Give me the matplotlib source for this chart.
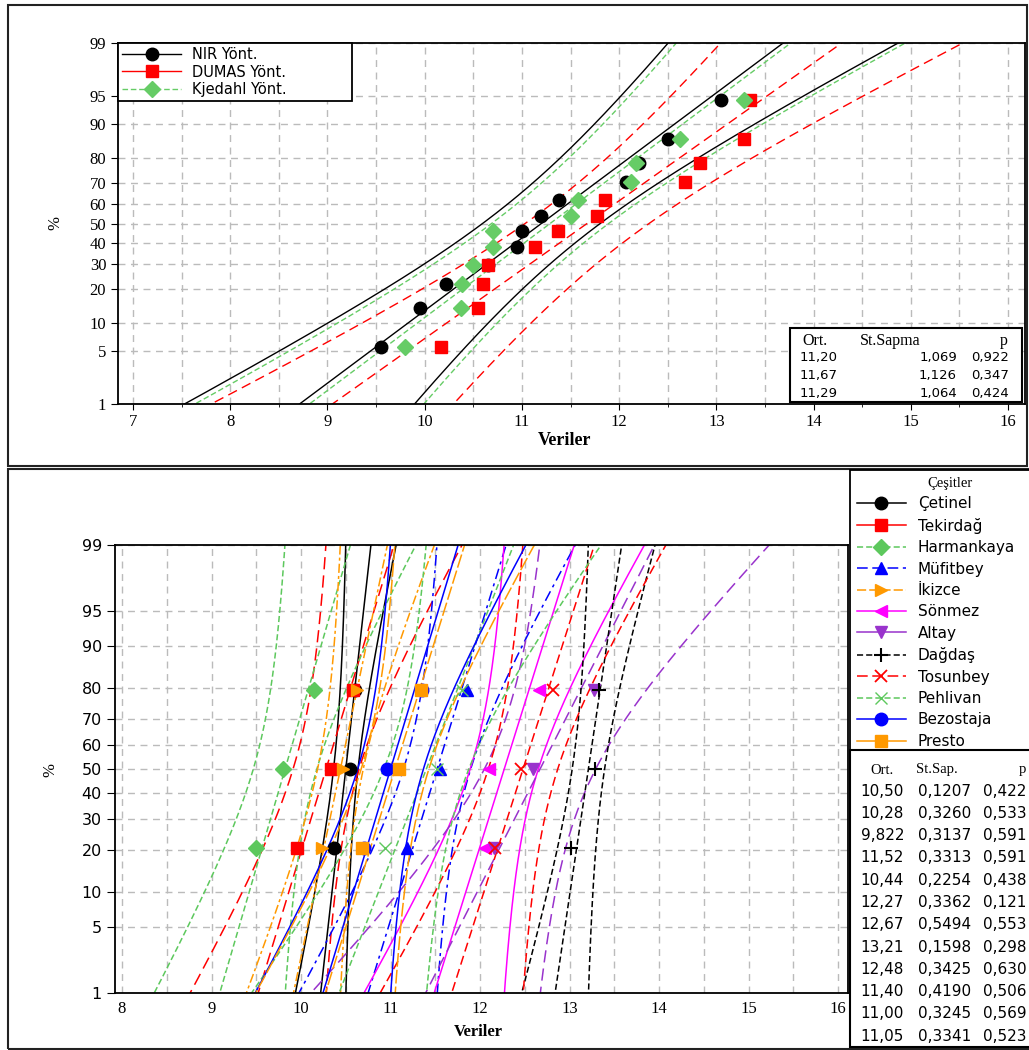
import numpy as np
import matplotlib
matplotlib.use('Agg')
import matplotlib.pyplot as plt
import matplotlib.patches as patches
from matplotlib.lines import Line2D
from matplotlib.ticker import MultipleLocator
from statistics import NormalDist

# ---- top panel data: three methods, 12 values each (sorted)
methods = ['NIR Yönt.', 'DUMAS Yönt.', 'Kjedahl Yönt.']
nir = [9.55, 9.95, 10.22, 10.65, 10.95, 11.00, 11.20, 11.38, 12.07, 12.20, 12.50, 13.05]
dumas = [10.17, 10.55, 10.60, 10.65, 11.13, 11.37, 11.77, 11.85, 12.68, 12.83, 13.28, 13.35]
kjel = [9.80, 10.37, 10.38, 10.50, 10.70, 10.70, 11.50, 11.58, 12.12, 12.17, 12.63, 13.28]
top_ort = [11.20, 11.67, 11.29]
top_sd = [1.069, 1.126, 1.064]
top_p = [0.922, 0.347, 0.424]

# ---- bottom panel data: 12 varieties, 3 values each
cesit = ['Çetinel', 'Tekirdağ', 'Harmankaya', 'Müfitbey', 'İkizce', 'Sönmez',
         'Altay', 'Dağdaş', 'Tosunbey', 'Pehlivan', 'Bezostaja', 'Presto']
cesit_vals = [
    [10.37, 10.55, 10.60],
    [9.95, 10.33, 10.58],
    [9.50, 9.80, 10.15],
    [11.18, 11.55, 11.85],
    [10.23, 10.47, 10.62],
    [12.05, 12.10, 12.66],
    [12.16, 12.59, 13.27],
    [13.02, 13.28, 13.33],
    [12.17, 12.46, 12.81],
    [10.94, 11.52, 11.80],
    [10.70, 10.96, 11.35],
    [10.68, 11.09, 11.34],
]
bot_ort = [10.50, 10.28, 9.822, 11.52, 10.44, 12.27, 12.67, 13.21, 12.48, 11.40, 11.00, 11.05]
bot_sd = [0.1207, 0.3260, 0.3137, 0.3313, 0.2254, 0.3362, 0.5494, 0.1598, 0.3425, 0.4190, 0.3245, 0.3341]
bot_p = [0.422, 0.533, 0.591, 0.591, 0.438, 0.121, 0.553, 0.298, 0.630, 0.506, 0.569, 0.523]

yticks = [1, 5, 10, 20, 30, 40, 50, 60, 70, 80, 90, 95, 99]

nd = NormalDist()
_f = np.vectorize(lambda v: nd.inv_cdf(v / 100.0), otypes=[float])
_i = np.vectorize(lambda v: nd.cdf(v) * 100.0, otypes=[float])


def fwd(p):
    return _f(np.clip(np.asarray(p, float), 1e-4, 100 - 1e-4))


def inv(z):
    return _i(np.asarray(z, float))


def ranks(n):
    # median rank plotting positions
    return [(i - 0.3) / (n + 0.4) * 100 for i in range(1, n + 1)]


pgrid = np.linspace(0.5, 99.5, 300)
zgrid = fwd(pgrid)


def fit_lines(ax, m, s, n, color, ls, lw=1.0):
    center = m + s * zgrid
    se = s * np.sqrt(1.0 / n + zgrid ** 2 / (2 * n - 1))
    for xx in (center - 1.96 * se, center, center + 1.96 * se):
        ax.plot(xx, pgrid, color=color, ls=ls, lw=lw, zorder=2)


def style_axes(ax, xlim, serif_y):
    ax.set_yscale('function', functions=(fwd, inv))
    ax.set_ylim(1, 99)
    ax.set_yticks(yticks)
    ax.set_yticklabels([str(t) for t in yticks])
    ax.set_xlim(*xlim)
    ax.xaxis.set_major_locator(MultipleLocator(1))
    ax.xaxis.set_minor_locator(MultipleLocator(0.5))
    ax.grid(True, which='both', axis='x', color='#bbbbbb', ls=(0, (5, 4)), lw=1.0, zorder=0)
    ax.grid(True, which='major', axis='y', color='#bbbbbb', ls=(0, (5, 4)), lw=1.0, zorder=0)
    ax.yaxis.set_minor_locator(matplotlib.ticker.NullLocator())
    for sp in ax.spines.values():
        sp.set_linewidth(1.3)
    ax.set_axisbelow(True)
    for lab in ax.get_xticklabels():
        lab.set_family('Liberation Serif')
        lab.set_fontsize(12)
    for lab in ax.get_yticklabels():
        lab.set_family('Liberation Serif' if serif_y else 'DejaVu Sans')
        lab.set_fontsize(12 if serif_y else 11.5)


fig = plt.figure(figsize=(10.29, 10.5), dpi=100)

# outer frames
fig.add_artist(patches.Rectangle((8 / 1029, 1 - 466 / 1050), 1019 / 1029, 461 / 1050,
                                 transform=fig.transFigure, fill=False, lw=1.5, ec='#222222'))
fig.add_artist(patches.Rectangle((8 / 1029, 0.001), 1.1, 1 - 469 / 1050 - 0.001,
                                 transform=fig.transFigure, fill=False, lw=1.5, ec='#222222'))

# ================= top panel
ax1 = fig.add_axes([118 / 1029, 1 - 404 / 1050, 907 / 1029, 361 / 1050])
style_axes(ax1, (6.846, 16.174), True)
ax1.tick_params(axis='x', which='major', direction='out', length=4)
ax1.tick_params(axis='x', which='minor', direction='out', length=2)
ax1.tick_params(axis='y', direction='out', length=5)

top_series = [nir, dumas, kjel]
top_colors = ['black', '#ff0000', '#66cc66']
top_ls = ['-', (0, (7, 4)), (0, (4, 2))]
top_mk = ['o', 's', 'D']
top_ms = [9, 8.5, 8]
for k in range(3):
    fit_lines(ax1, top_ort[k], top_sd[k], len(top_series[k]), top_colors[k], top_ls[k])
for k in range(3):
    ax1.plot(top_series[k], ranks(len(top_series[k])), ls='none', marker=top_mk[k],
             color=top_colors[k], ms=top_ms[k], zorder=4)

top_handles = [Line2D([], [], color=top_colors[k], ls=['-', '-', (0, (4, 2))][k], lw=1.0,
                      marker=top_mk[k], ms=top_ms[k]) for k in range(3)]
leg1 = ax1.legend(top_handles, methods, loc='upper left',
                  bbox_to_anchor=(0, 1 - 56 / 361, 234 / 907, 56 / 361), mode='expand',
                  borderaxespad=0, fancybox=False, framealpha=1, edgecolor='black',
                  fontsize=10.5, handlelength=4, labelspacing=0.15, borderpad=0.3,
                  handletextpad=0.8)
leg1.get_frame().set_linewidth(1.3)
leg1.set_zorder(10)

fig.text(55 / 1029, 1 - 223 / 1050, '%', rotation=90, ha='center', va='center',
         family='Liberation Serif', fontsize=12)
fig.text(565 / 1029, 1 - 441 / 1050, 'Veriler', ha='center', va='center',
         family='Liberation Serif', fontsize=13, weight='bold')

# top stats table
fig.add_artist(patches.Rectangle((790 / 1029, 1 - 402 / 1050), 232 / 1029, 74 / 1050,
                                 transform=fig.transFigure, fc='white', ec='black', lw=1.5,
                                 zorder=20))
fig.text(815 / 1029, 1 - 341 / 1050, 'Ort.', ha='center', va='center',
         family='Liberation Serif', fontsize=11.5, zorder=21)
fig.text(890 / 1029, 1 - 341 / 1050, 'St.Sapma', ha='center', va='center',
         family='Liberation Serif', fontsize=11.5, zorder=21)
fig.text(1004 / 1029, 1 - 341 / 1050, 'p', ha='center', va='center',
         family='Liberation Serif', fontsize=11.5, zorder=21)
for k in range(3):
    yy = 1 - (358 + 17.5 * k) / 1050
    fig.text(800 / 1029, yy, f'{top_ort[k]:.2f}'.replace('.', ','), ha='left', va='center',
             fontsize=9.5, zorder=21)
    fig.text(957 / 1029, yy, f'{top_sd[k]:.3f}'.replace('.', ','), ha='right', va='center',
             fontsize=9.5, zorder=21)
    fig.text(1009 / 1029, yy, f'{top_p[k]:.3f}'.replace('.', ','), ha='right', va='center',
             fontsize=9.5, zorder=21)

# ================= bottom panel
ax2 = fig.add_axes([115 / 1029, 1 - 993 / 1050, 733 / 1029, 448 / 1050])
style_axes(ax2, (7.922, 16.11), False)
ax2.tick_params(axis='x', which='both', length=0, pad=6)
ax2.tick_params(axis='y', direction='out', length=6)

bot_colors = ['black', '#ff0000', '#5dc85d', '#0000ff', '#ff9900', '#ff00ff',
              '#9933cc', 'black', '#ff0000', '#5dc85d', '#0000ff', '#ff9900']
bot_ls = ['-', (0, (8, 4)), (0, (4, 2)), (0, (7, 3, 2, 3)), (0, (6, 2, 2, 2)), '-',
          (0, (8, 4)), (0, (4, 2)), (0, (6, 3)), (0, (4, 2)), '-', (0, (9, 2))]
bot_leg_ls = ['-', '-', (0, (4, 2)), (0, (7, 3)), (0, (6, 2)), '-',
              '-', (0, (4, 2)), (0, (7, 3)), (0, (4, 2)), '-', '-']
bot_mk = ['o', 's', 'D', '^', '>', '<', 'v', '+', 'x', 'x', 'o', 's']
bot_ms = [9, 8.5, 8, 9, 9, 9, 9, 10, 8, 8, 9, 8.5]
bot_mew = [1, 1, 1, 1, 1, 1, 1, 1.5, 1.3, 1.0, 1, 1]

for k in range(len(cesit)):
    fit_lines(ax2, bot_ort[k], bot_sd[k], len(cesit_vals[k]), bot_colors[k], bot_ls[k], lw=1.1)
for k in range(len(cesit)):
    ax2.plot(cesit_vals[k], ranks(len(cesit_vals[k])), ls='none', marker=bot_mk[k],
             color=bot_colors[k], ms=bot_ms[k], mew=bot_mew[k], zorder=4)

fig.text(50 / 1029, 1 - 770 / 1050, '%', rotation=90, ha='center', va='center',
         family='Liberation Serif', fontsize=12)
fig.text(478 / 1029, 1 - 1032 / 1050, 'Veriler', ha='center', va='center',
         family='Liberation Serif', fontsize=12, weight='bold')

bot_handles = [Line2D([], [], color=bot_colors[k], ls=bot_leg_ls[k], lw=1.1,
                      marker=bot_mk[k], ms=bot_ms[k], mew=bot_mew[k]) for k in range(len(cesit))]
leg2 = fig.legend(bot_handles, cesit, loc='upper left',
                  bbox_to_anchor=(850 / 1029, 1 - 750 / 1050, 200 / 1029, 280 / 1050),
                  mode='expand', borderaxespad=0,
                  fancybox=False, framealpha=1, edgecolor='black', fontsize=11,
                  handlelength=3.2, labelspacing=0.42, borderpad=0.45,
                  handletextpad=0.8, title='Çeşitler',
                  title_fontproperties={'family': 'Liberation Serif', 'size': 10.5})
leg2.get_frame().set_linewidth(1.3)

# bottom stats table
fig.add_artist(patches.Rectangle((850 / 1029, 1 - 1047 / 1050), 200 / 1029, 297 / 1050,
                                 transform=fig.transFigure, fc='white', ec='black', lw=1.5,
                                 zorder=20))
fig.text(882 / 1029, 1 - 770 / 1050, 'Ort.', ha='center', va='center',
         family='Liberation Serif', fontsize=10.5, zorder=21)
fig.text(937 / 1029, 1 - 770 / 1050, 'St.Sap.', ha='center', va='center',
         family='Liberation Serif', fontsize=10.5, zorder=21)
fig.text(1022 / 1029, 1 - 770 / 1050, 'p', ha='center', va='center',
         family='Liberation Serif', fontsize=10.5, zorder=21)
for k in range(len(cesit)):
    yy = 1 - (791 + 22.3 * k) / 1050
    o = bot_ort[k]
    otxt = f'{o:.3f}' if o < 10 else f'{o:.2f}'
    fig.text(904 / 1029, yy, otxt.replace('.', ','), ha='right', va='center',
             fontsize=11, zorder=21)
    fig.text(971 / 1029, yy, f'{bot_sd[k]:.4f}'.replace('.', ','), ha='right', va='center',
             fontsize=11, zorder=21)
    fig.text(983 / 1029, yy, f'{bot_p[k]:.3f}'.replace('.', ','), ha='left', va='center',
             fontsize=11, zorder=21)

fig.savefig('out.png', dpi=100)
